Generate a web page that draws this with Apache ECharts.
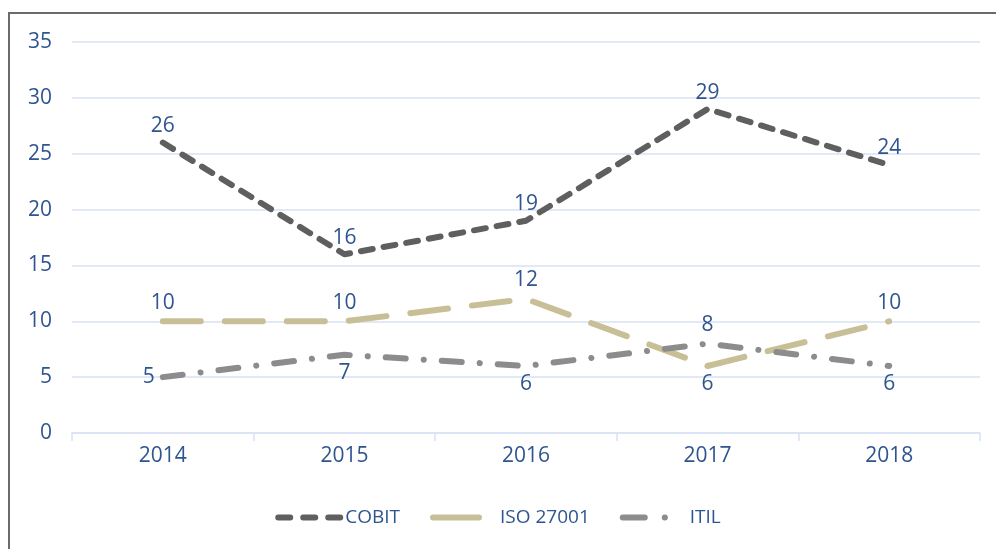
<!DOCTYPE html>
<html>
<head>
<meta charset="utf-8">
<script src="https://cdn.jsdelivr.net/npm/echarts@6/dist/echarts.min.js"></script>
<style>
    html, body { margin: 0; padding: 0; background: #fff; }
    #main { width: 996px; height: 549px; position: relative; }
    #frame { position: absolute; left: 8px; top: 12px; width: 1000px; height: 600px;
             border-left: 2px solid #6b6b6b; border-top: 2px solid #6b6b6b; box-sizing: border-box; pointer-events: none; }
</style>
</head>
<body>
<div id="main"></div>
<div id="frame"></div>
<script>
// 年份
const years = ['2014', '2015', '2016', '2017', '2018'];
// 各系列数据
const cobit = [26, 16, 19, 29, 24];
const iso27001 = [10, 10, 12, 6, 10];
const itil = [5, 7, 6, 8, 6];
// 数据标签位置
const isoLabelPos = ['top', 'top', 'top', 'bottom', 'top'];
const itilLabelPos = ['left', 'bottom', 'bottom', 'top', 'bottom'];

const textColor = '#2F5590';
const font = 'Open Sans';

function withPos(values, positions) {
    return values.map(function(v, i) {
        return { value: v, label: { position: positions[i] } };
    });
}

const chart = echarts.init(document.getElementById('main'));
chart.setOption({
    animation: false,
    textStyle: { fontFamily: font },
    grid: { left: 72, right: 16, top: 42, bottom: 116 },
    legend: {
        bottom: 17,
        left: 'center',
        itemWidth: 62,
        itemHeight: 10,
        itemGap: 30,
        itemStyle: { opacity: 0 },
        lineStyle: { width: 6, cap: 'round' },
        textStyle: { color: textColor, fontSize: 19, fontFamily: font },
        data: [
            { name: 'COBIT', lineStyle: { type: [12, 13] } },
            { name: 'ISO 27001', lineStyle: { type: [46, 100] } },
            { name: 'ITIL', lineStyle: { type: [22, 20, 0.1, 100] } }
        ]
    },
    xAxis: {
        type: 'category',
        data: years,
        boundaryGap: true,
        axisLine: { lineStyle: { color: '#D9E2F3', width: 1.5 } },
        axisTick: { show: true, length: 8, lineStyle: { color: '#D9E2F3', width: 1.5 } },
        axisLabel: { color: textColor, fontSize: 21, margin: 13 }
    },
    yAxis: {
        type: 'value',
        min: 0,
        max: 35,
        interval: 5,
        axisLine: { show: false },
        axisTick: { show: false },
        axisLabel: { color: textColor, fontSize: 21, margin: 20 },
        splitLine: { lineStyle: { color: '#D9E2F3', width: 1.5 } }
    },
    series: [
        {
            name: 'COBIT',
            type: 'line',
            data: cobit,
            symbol: 'circle',
            symbolSize: 0,
            lineStyle: { color: '#5F5F5F', width: 6, type: [12, 11], cap: 'round', join: 'round' },
            itemStyle: { color: '#5F5F5F' },
            label: { show: true, position: 'top', distance: 6, color: textColor, fontSize: 21 }
        },
        {
            name: 'ISO 27001',
            type: 'line',
            data: withPos(iso27001, isoLabelPos),
            symbol: 'circle',
            symbolSize: 0,
            lineStyle: { color: '#C9BF97', width: 6, type: [38, 24], cap: 'round', join: 'round' },
            itemStyle: { color: '#C9BF97' },
            label: { show: true, distance: 8, color: textColor, fontSize: 21 }
        },
        {
            name: 'ITIL',
            type: 'line',
            data: withPos(itil, itilLabelPos),
            symbol: 'circle',
            symbolSize: 0,
            lineStyle: { color: '#8C8C8C', width: 6, type: [20, 18, 0.1, 18], cap: 'round', join: 'round' },
            itemStyle: { color: '#8C8C8C' },
            label: { show: true, distance: 8, color: textColor, fontSize: 21 }
        }
    ]
});
</script>
</body>
</html>
